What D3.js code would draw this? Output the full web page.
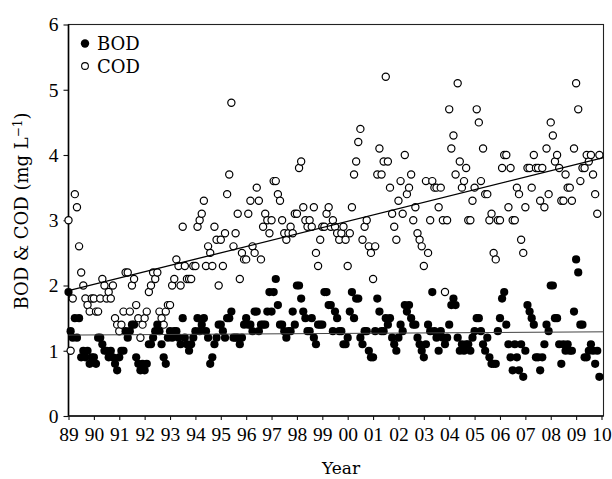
<!DOCTYPE html>
<html>
<head>
<meta charset="utf-8">
<script src="https://cdn.jsdelivr.net/npm/d3@7"></script>
<style>
  html, body { margin: 0; padding: 0; background: #fff; }
  svg { display: block; }
</style>
</head>
<body>
<div id="chart"></div>
<script>
// years on the x axis (first month of each year sits on its tick)
const years = d3.range(1989, 2010);
const tickYears = d3.range(1989, 2011);
const yTicks = [0, 1, 2, 3, 4, 5, 6];

// monthly values, one row per year (mg/L)
const bod = [
  [1.9,1.3,1.2,1.5,1.2,1.5,0.9,1.0,0.9,1.0,0.8,0.9],
  [0.9,0.8,1.2,1.2,1.1,1.0,1.0,0.9,1.0,0.9,0.8,0.7],
  [0.9,1.0,1.0,1.3,1.2,1.3,1.4,1.4,0.9,0.8,0.7,0.8],
  [0.7,0.8,1.1,1.1,1.2,1.3,1.4,1.3,1.1,0.9,0.8,1.2],
  [1.3,1.2,1.3,1.3,1.2,1.1,1.5,1.2,1.1,1.0,1.1,1.2],
  [1.3,1.5,1.3,1.4,1.5,1.3,1.2,0.8,0.9,1.1,1.2,1.4],
  [1.4,1.3,1.2,1.5,1.5,1.6,1.2,1.2,1.2,1.1,1.2,1.4],
  [1.5,1.4,1.4,1.3,1.6,1.6,1.3,1.4,1.4,1.4,1.6,1.9],
  [1.6,1.9,2.1,1.7,1.4,1.4,1.3,1.2,1.3,1.3,1.6,1.4],
  [2.0,2.0,1.8,1.6,1.5,1.3,1.3,1.5,1.2,1.1,1.4,1.4],
  [1.4,1.9,1.9,1.7,1.7,1.3,1.6,1.5,1.3,1.3,1.1,1.1],
  [1.2,1.6,1.9,1.5,1.8,1.8,1.2,1.1,1.3,1.3,1.0,0.9],
  [0.9,1.3,1.8,1.6,1.3,1.3,1.5,1.4,1.5,1.2,1.1,1.0],
  [1.2,1.4,1.3,1.7,1.6,1.7,1.5,1.4,1.4,1.2,1.1,1.0],
  [0.9,1.1,1.4,1.3,1.9,1.3,1.2,1.0,1.3,1.2,1.1,1.2],
  [1.4,1.7,1.8,1.7,1.2,1.0,1.1,1.0,1.1,1.1,1.0,1.2],
  [1.3,1.5,1.5,1.3,1.1,1.0,1.2,0.9,0.8,0.8,0.8,1.3],
  [1.5,1.8,1.9,1.4,1.1,0.9,0.7,1.1,0.9,0.7,1.1,0.6],
  [1.0,1.7,1.6,1.5,1.4,0.9,0.9,0.7,0.9,1.1,1.4,1.3],
  [2.0,2.0,1.5,1.5,1.1,0.8,1.1,1.0,1.1,1.0,1.0,1.6],
  [2.4,2.2,1.4,1.4,0.9,0.9,1.0,1.1,1.0,0.8,1.0,0.6]
];

const cod = [
  [3.0,1.0,1.8,3.4,3.2,2.6,2.2,2.0,1.8,1.7,1.6,1.8],
  [1.8,1.6,1.6,1.8,2.1,2.0,1.8,1.9,1.8,2.0,1.5,1.4],
  [1.3,1.4,1.6,2.2,2.2,1.6,2.0,2.1,1.7,1.5,1.2,1.4],
  [1.5,1.6,1.9,2.0,2.2,2.1,2.2,1.6,1.5,1.4,1.6,1.7],
  [1.7,2.0,2.1,2.4,2.3,2.0,2.9,2.3,2.1,2.1,2.1,2.3],
  [2.3,2.9,3.0,3.1,3.3,2.3,2.6,2.5,2.3,2.9,2.7,2.0],
  [2.7,2.3,2.8,3.4,3.7,4.8,2.6,2.8,3.1,2.1,2.5,2.4],
  [2.4,3.1,3.3,2.6,2.5,3.5,3.3,2.4,2.9,3.1,3.0,2.8],
  [3.0,3.6,3.6,3.4,3.3,3.0,2.8,2.7,2.8,2.9,2.8,3.1],
  [3.1,3.8,3.9,3.2,3.0,2.9,3.0,2.9,3.2,2.5,2.3,2.7],
  [2.9,2.9,3.1,3.2,2.9,3.0,2.9,2.8,2.7,2.8,2.9,2.7],
  [2.3,2.8,3.2,3.7,3.9,4.2,4.4,2.7,2.9,3.0,2.6,2.5],
  [2.1,2.6,3.7,4.1,3.7,3.9,5.2,3.9,3.5,3.1,2.9,2.7],
  [3.3,3.6,3.1,4.0,3.4,3.5,3.7,3.0,3.2,2.8,2.7,2.6],
  [2.3,3.6,2.5,3.0,3.6,3.5,3.5,3.2,3.5,3.0,1.9,3.0],
  [4.7,4.1,4.3,3.7,5.1,3.9,3.5,3.6,3.8,3.0,3.0,3.3],
  [3.5,4.7,4.5,3.6,4.1,3.4,3.4,3.0,3.1,2.5,2.4,3.0],
  [3.0,3.8,4.0,4.0,3.2,3.8,3.0,3.0,3.5,3.4,2.7,2.5],
  [3.2,3.8,3.8,3.5,4.0,3.8,3.8,3.3,3.8,3.2,4.1,3.4],
  [4.5,4.3,3.9,4.0,3.8,3.3,3.3,3.7,3.5,3.5,3.3,4.1],
  [5.1,4.7,3.6,3.8,3.8,4.0,3.9,4.0,3.7,3.4,3.1,4.0]
];

// fitted trend lines, end points
const codTrend = [[1989, 1.92], [2010.08, 3.96]];
const bodTrend = [[1989, 1.24], [2010.08, 1.29]];

const width = 612, height = 479;
const margin = {left: 68.5, right: 8.5, top: 24.5, bottom: 63};
const plotW = width - margin.left - margin.right;
const plotH = height - margin.top - margin.bottom;

const svg = d3.select('#chart').append('svg')
  .attr('width', width).attr('height', height)
  .style('font-family', '"DejaVu Serif", serif');

const x = d3.scaleLinear().domain([1989, 2010]).range([margin.left, 601.5]);
const y = d3.scaleLinear().domain([0, 6]).range([height - margin.bottom, margin.top]);

// flatten year rows into monthly points
function toPoints(rows) {
  const pts = [];
  rows.forEach((row, i) => row.forEach((v, m) => pts.push({t: years[i] + m / 12, v})));
  return pts;
}
const codPts = toPoints(cod);
const bodPts = toPoints(bod);

// frame (top and right edges)
svg.append('rect')
  .attr('x', margin.left).attr('y', margin.top)
  .attr('width', plotW).attr('height', plotH)
  .attr('fill', 'none').attr('stroke', '#222').attr('stroke-width', 1.1);

// axes
const xAxis = d3.axisBottom(x).tickValues(tickYears)
  .tickSize(4).tickPadding(7)
  .tickFormat(d => String(d % 100).padStart(2, '0'));
const yAxis = d3.axisLeft(y).tickValues(yTicks).tickSize(5).tickPadding(5)
  .tickFormat(d3.format('d'));

const gx = svg.append('g').attr('transform', `translate(0,${height - margin.bottom})`).call(xAxis);
const gy = svg.append('g').attr('transform', `translate(${margin.left},0)`).call(yAxis);
[gx, gy].forEach(g => {
  g.select('.domain').remove();
  g.selectAll('line').attr('stroke', '#111').attr('stroke-width', 1.1);
  g.selectAll('text').attr('fill', '#000')
    .style('font-family', '"Liberation Serif", serif').style('font-size', '19.5px');
});
// solid axis lines
svg.append('line').attr('x1', margin.left).attr('x2', margin.left)
  .attr('y1', margin.top).attr('y2', height - margin.bottom)
  .attr('stroke', '#000').attr('stroke-width', 1.6);
svg.append('line').attr('x1', margin.left).attr('x2', width - margin.right)
  .attr('y1', height - margin.bottom).attr('y2', height - margin.bottom)
  .attr('stroke', '#111').attr('stroke-width', 1.4);

// COD open circles
svg.append('g').selectAll('circle').data(codPts).join('circle')
  .attr('cx', d => x(d.t)).attr('cy', d => y(d.v)).attr('r', 3.6)
  .attr('fill', '#fff').attr('stroke', '#000').attr('stroke-width', 1.2);

// BOD filled dots
svg.append('g').selectAll('circle').data(bodPts).join('circle')
  .attr('cx', d => x(d.t)).attr('cy', d => y(d.v)).attr('r', 4.1)
  .attr('fill', '#000');

// trend lines
const line = d3.line().x(d => x(d[0])).y(d => y(d[1]));
svg.append('path').attr('d', line(codTrend))
  .attr('fill', 'none').attr('stroke', '#000').attr('stroke-width', 1.3);
svg.append('path').attr('d', line(bodTrend))
  .attr('fill', 'none').attr('stroke', '#444').attr('stroke-width', 1);

// legend
const legend = svg.append('g');
legend.append('circle').attr('cx', 85).attr('cy', 43.5).attr('r', 4.2).attr('fill', '#000');
legend.append('circle').attr('cx', 85).attr('cy', 66).attr('r', 3.4)
  .attr('fill', '#fff').attr('stroke', '#000').attr('stroke-width', 1.1);
legend.append('text').attr('x', 97).attr('y', 50).text('BOD')
  .style('font-size', '18px').attr('fill', '#000');
legend.append('text').attr('x', 97).attr('y', 72.5).text('COD')
  .style('font-size', '18px').attr('fill', '#000');

// axis titles
svg.append('text').attr('x', 341).attr('y', 474).attr('text-anchor', 'middle')
  .style('font-size', '17px').attr('fill', '#000').text('Year');

const yt = svg.append('text')
  .attr('transform', 'translate(28,211) rotate(-90)')
  .attr('text-anchor', 'middle')
  .style('font-size', '18px').attr('fill', '#000');
yt.append('tspan').text('BOD & COD (mg L');
yt.append('tspan').attr('dy', -6).style('font-size', '12px').text('\u22121');
yt.append('tspan').attr('dy', 6).text(')');
</script>
</body>
</html>
